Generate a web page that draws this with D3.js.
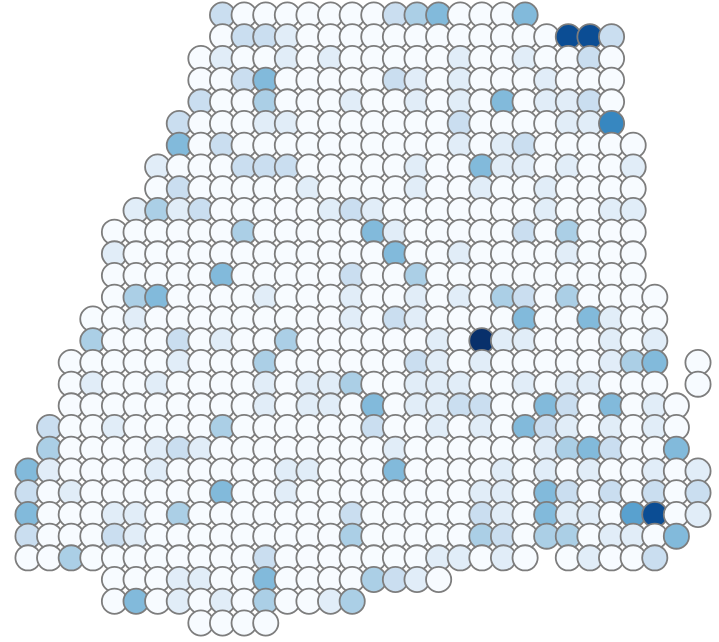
<!DOCTYPE html>
<html><head><meta charset="utf-8">
<script src="https://cdn.jsdelivr.net/npm/d3@7"></script>
<style>html,body{margin:0;padding:0;background:#fff;}</style>
</head><body>
<svg id="chart" width="719" height="642"></svg>
<script>
// Spot grid: one string per row, one character per column ('.' = no spot, digit = expression level 0..9)
const spotRows = [
  ".........200000002340004........",
  ".........0221000000000000882....",
  "........01001010000010010020....",
  "........00240000021010001000....",
  "........20030001001010401120....",
  ".......200011000000020000116....",
  ".......4020000000000101200000...",
  "......10002220000010041101001...",
  "......02000001000010010010000...",
  ".....131200000121000000010011...",
  "....0000003000004100000203000...",
  "....1000000000000400100001000...",
  "....0000040000020030000000000...",
  "....03400001000100101032030000..",
  "...001000000000102100004004100..",
  "...300020100300000010911000101..",
  "..0000010003000000210100000134.0",
  "..0100100001011300111001011000.0",
  "..00000000010110401122004204010.",
  ".200100003000000200101042101010.",
  ".300001210000000010000001342004.",
  "41000010000011000400001010100101",
  "20100000040010000000011042020202",
  "40001103000000020000021041105801",
  "2000210000000003000003203301104.",
  "003000000002000000011010.01002..",
  "....0001100400003210............",
  "....040101030013................",
  "........0000...................."
];
const colCount = 32;
const rowCount = 29;
const levelDomain = [0, 9];

const spots = [];
spotRows.forEach((s, r) => {
  for (let c = 0; c < s.length; c++) {
    const ch = s[c];
    if (ch !== '.') spots.push({row: r, col: c, value: +ch});
  }
});

const svg = d3.select('#chart');
const x = d3.scaleLinear().domain([0, colCount - 1]).range([28, 698]);
const y = d3.scaleLinear().domain([0, rowCount - 1]).range([15, 623]);
const color = d3.scaleSequential(d3.interpolateBlues).domain(levelDomain);

svg.append('g')
  .selectAll('circle')
  .data(spots)
  .join('circle')
  .attr('cx', d => x(d.col))
  .attr('cy', d => y(d.row))
  .attr('r', 12.6)
  .attr('fill', d => color(d.value))
  .attr('stroke', '#7d7d7d')
  .attr('stroke-width', 1.8);
</script>
</body></html>
